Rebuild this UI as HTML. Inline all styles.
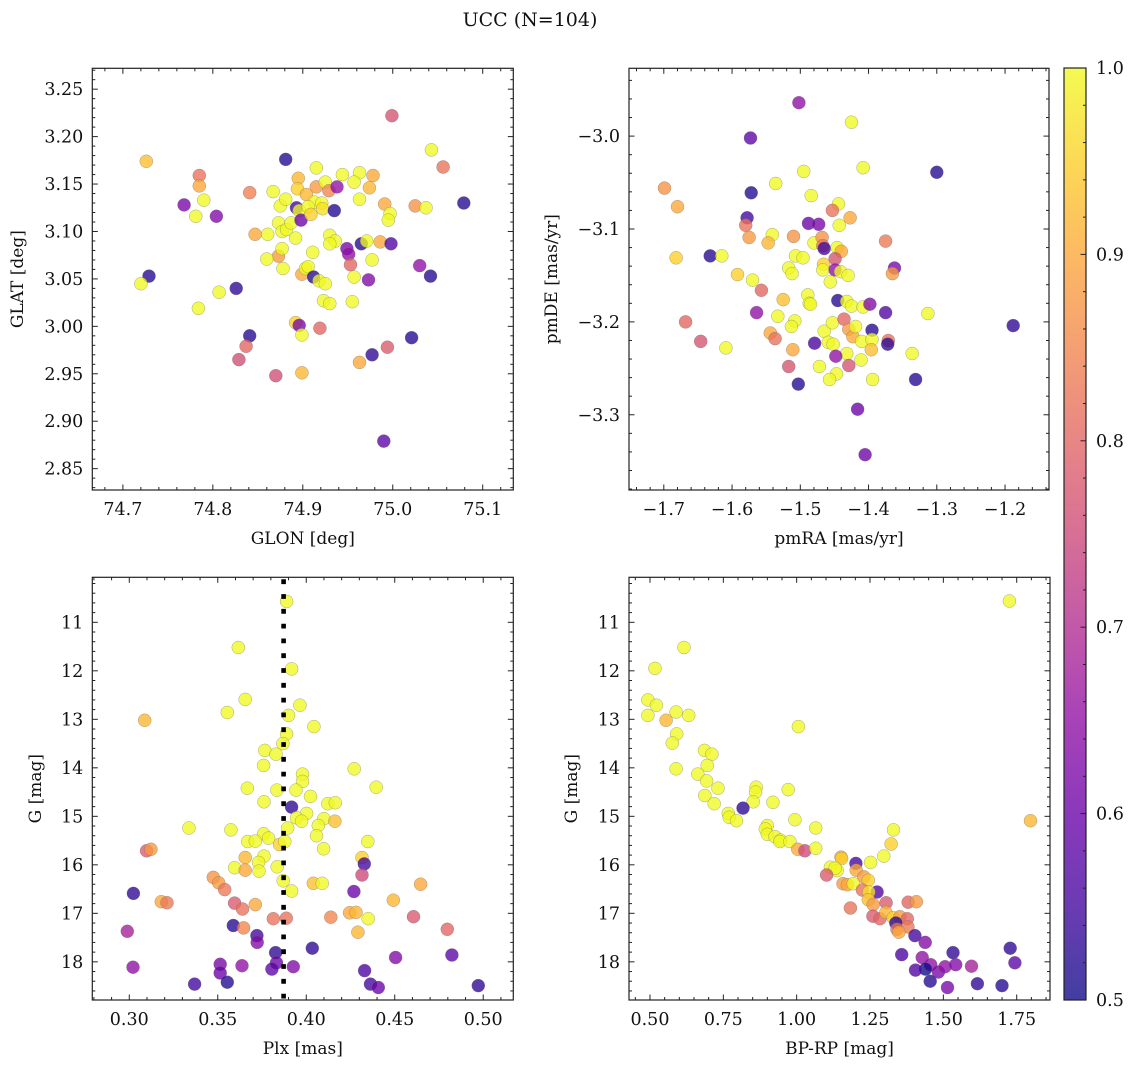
<!DOCTYPE html>
<html><head><meta charset="utf-8"><title>UCC (N=104)</title>
<style>
html,body{margin:0;padding:0;background:#fff;}
svg{display:block;font-family:"DejaVu Serif","Liberation Serif",serif;}
</style></head>
<body>
<svg id="fig" width="1136" height="1067" viewBox="0 0 1136 1067" xmlns="http://www.w3.org/2000/svg">
<defs>
<linearGradient id="plasma" x1="0" y1="1" x2="0" y2="0">
<stop offset="0" stop-color="#0d0887"/><stop offset="0.1" stop-color="#41049d"/><stop offset="0.2" stop-color="#6a00a8"/><stop offset="0.3" stop-color="#8f0da4"/><stop offset="0.4" stop-color="#b12a90"/><stop offset="0.5" stop-color="#cc4778"/><stop offset="0.6" stop-color="#e16462"/><stop offset="0.7" stop-color="#f2844b"/><stop offset="0.8" stop-color="#fca636"/><stop offset="0.9" stop-color="#fcce25"/><stop offset="1" stop-color="#f0f921"/>
</linearGradient>
</defs>
<text x="530" y="26" font-size="19" text-anchor="middle" fill="#111">UCC (N=104)</text>
</svg>
<script>
// ---- Panel 1: GLON / GLAT
const p1Lon=[74.726,74.785,74.785,74.768,74.790,74.781,74.804,74.841,74.881,74.729,74.720,74.807,74.784,74.826,74.841,74.837,74.829,74.870,74.899,74.847,74.861,74.867,74.875,74.881,74.873,74.877,74.882,74.887,74.892,74.873,74.877,74.860,74.878,74.895,74.894,74.893,74.896,74.898,74.904,74.915,74.915,74.925,74.929,74.938,74.913,74.921,74.906,74.909,74.922,74.935,74.944,74.963,74.957,74.978,74.974,74.963,74.991,74.997,74.995,75.025,75.037,75.043,75.056,74.999,75.079,74.930,74.936,74.930,74.911,74.949,74.951,74.953,74.965,74.971,74.986,74.998,74.977,74.957,74.973,75.030,75.042,74.899,74.903,74.906,74.912,74.918,74.925,74.923,74.930,74.955,74.892,74.896,74.899,74.919,75.021,74.994,74.977,74.963,74.990];
const p1Lat=[3.174,3.159,3.148,3.128,3.133,3.116,3.116,3.141,3.176,3.053,3.045,3.036,3.019,3.040,2.990,2.979,2.965,2.948,2.951,3.097,3.097,3.142,3.127,3.134,3.109,3.100,3.102,3.109,3.093,3.074,3.082,3.071,3.061,3.156,3.145,3.125,3.122,3.112,3.139,3.167,3.147,3.152,3.143,3.147,3.131,3.130,3.126,3.118,3.124,3.122,3.160,3.162,3.152,3.159,3.146,3.134,3.129,3.119,3.112,3.127,3.125,3.186,3.168,3.222,3.130,3.096,3.090,3.087,3.078,3.082,3.076,3.065,3.087,3.090,3.089,3.087,3.070,3.052,3.049,3.064,3.053,3.055,3.061,3.063,3.052,3.048,3.045,3.027,3.024,3.026,3.004,3.001,2.991,2.998,2.988,2.978,2.970,2.962,2.879];
const p1Prob=[0.93,0.82,0.9,0.62,1,1,0.63,0.84,0.52,0.52,1,1,1,0.53,0.52,0.8,0.76,0.76,0.92,0.9,1,1,1,1,1,1,1,1,1,0.88,1,1,1,0.92,0.95,0.55,1,0.6,0.92,1,0.88,1,0.85,0.65,1,1,1,0.95,0.97,0.52,1,1,1,0.9,0.92,1,0.9,1,1,0.87,1,1,0.82,0.77,0.52,1,1,1,1,0.62,0.65,0.8,0.52,1,0.9,0.57,1,1,0.63,0.65,0.52,0.9,1,1,0.52,1,1,1,1,1,0.95,0.62,1,0.8,0.52,0.78,0.53,0.9,0.58];
// ---- Panel 2: pmRA / pmDE
const p2Ra=[-1.502,-1.425,-1.573,-1.300,-1.408,-1.495,-1.536,-1.699,-1.680,-1.572,-1.484,-1.444,-1.453,-1.427,-1.443,-1.578,-1.580,-1.488,-1.473,-1.575,-1.541,-1.547,-1.510,-1.480,-1.468,-1.467,-1.465,-1.446,-1.440,-1.449,-1.682,-1.632,-1.615,-1.507,-1.496,-1.517,-1.512,-1.466,-1.467,-1.449,-1.441,-1.430,-1.456,-1.362,-1.365,-1.375,-1.592,-1.570,-1.557,-1.525,-1.564,-1.533,-1.508,-1.513,-1.489,-1.487,-1.485,-1.445,-1.432,-1.425,-1.408,-1.398,-1.375,-1.313,-1.188,-1.668,-1.646,-1.609,-1.544,-1.537,-1.511,-1.517,-1.503,-1.479,-1.465,-1.453,-1.459,-1.452,-1.436,-1.429,-1.423,-1.419,-1.410,-1.395,-1.395,-1.396,-1.371,-1.372,-1.432,-1.448,-1.429,-1.411,-1.472,-1.447,-1.457,-1.394,-1.336,-1.331,-1.416,-1.405];
const p2De=[-2.964,-2.985,-3.002,-3.039,-3.034,-3.038,-3.051,-3.056,-3.076,-3.061,-3.064,-3.073,-3.080,-3.088,-3.096,-3.088,-3.096,-3.094,-3.095,-3.109,-3.106,-3.115,-3.108,-3.115,-3.109,-3.118,-3.121,-3.120,-3.124,-3.132,-3.131,-3.129,-3.129,-3.129,-3.131,-3.142,-3.148,-3.138,-3.144,-3.144,-3.146,-3.150,-3.157,-3.142,-3.148,-3.113,-3.149,-3.155,-3.166,-3.176,-3.190,-3.194,-3.199,-3.205,-3.171,-3.180,-3.181,-3.177,-3.178,-3.183,-3.184,-3.181,-3.190,-3.191,-3.204,-3.200,-3.221,-3.228,-3.212,-3.218,-3.230,-3.248,-3.267,-3.223,-3.210,-3.201,-3.222,-3.224,-3.197,-3.208,-3.216,-3.205,-3.221,-3.209,-3.219,-3.230,-3.220,-3.224,-3.234,-3.237,-3.247,-3.241,-3.248,-3.256,-3.262,-3.262,-3.234,-3.262,-3.294,-3.343];
const p2Prob=[0.65,1,0.58,0.52,1,1,1,0.87,0.9,0.52,1,1,0.82,0.9,1,0.55,0.82,0.6,0.62,0.88,1,0.92,0.87,1,0.87,0.83,0.55,1,0.9,0.77,0.95,0.52,1,1,1,1,1,0.95,1,0.65,1,1,1,0.62,0.88,0.83,0.95,1,0.8,0.93,0.65,1,1,1,1,1,1,0.52,1,1,1,0.63,0.57,1,0.53,0.8,0.77,1,0.9,0.82,0.9,0.77,0.52,0.56,1,1,1,1,0.8,0.88,0.9,1,1,0.52,1,0.93,0.82,0.53,1,0.65,0.77,1,1,1,1,1,1,0.52,0.6,0.6];
// ---- Panel 3: Plx / G
const p3Plx=[0.3889,0.3616,0.3917,0.3554,0.3655,0.3087,0.3964,0.3900,0.4043,0.3889,0.3868,0.3766,0.3829,0.3759,0.4271,0.3979,0.3979,0.3667,0.3834,0.3942,0.4024,0.4395,0.3761,0.4122,0.4164,0.3917,0.4002,0.3945,0.3974,0.4100,0.4162,0.4068,0.3337,0.3574,0.3895,0.4058,0.3759,0.3787,0.3669,0.3712,0.3849,0.3879,0.4348,0.4098,0.3098,0.3122,0.3655,0.3761,0.3731,0.4315,0.4328,0.3595,0.3655,0.3733,0.3836,0.3475,0.3505,0.3539,0.4315,0.3870,0.3917,0.4040,0.4090,0.4646,0.4269,0.3023,0.3181,0.3213,0.3595,0.3640,0.3712,0.4492,0.3814,0.3887,0.4139,0.4245,0.4281,0.4350,0.4606,0.4797,0.4292,0.2989,0.3588,0.3646,0.3721,0.3723,0.4034,0.3827,0.3832,0.3806,0.3927,0.4505,0.4823,0.3021,0.3514,0.3514,0.3637,0.3554,0.3369,0.4330,0.4363,0.4407,0.4972];
const p3G=[10.57,11.52,11.96,12.86,12.59,13.02,12.71,12.92,13.15,13.30,13.50,13.64,13.72,13.95,14.02,14.13,14.28,14.42,14.46,14.46,14.59,14.40,14.70,14.74,14.72,14.81,14.94,15.03,15.10,15.05,15.10,15.19,15.24,15.28,15.24,15.40,15.36,15.45,15.52,15.51,15.58,15.52,15.52,15.67,15.71,15.68,15.85,15.82,15.95,15.85,15.98,16.06,16.11,16.13,16.04,16.26,16.37,16.51,16.21,16.33,16.54,16.38,16.38,16.40,16.55,16.59,16.76,16.78,16.79,16.91,16.82,16.73,17.11,17.10,17.08,16.99,16.98,17.11,17.07,17.33,17.39,17.37,17.25,17.30,17.46,17.60,17.72,17.81,18.02,18.15,18.10,17.91,17.86,18.11,18.05,18.23,18.08,18.42,18.46,18.18,18.46,18.53,18.49];
const p3Prob=[1,1,1,1,1,0.92,1,1,1,1,1,1,1,1,1,1,1,1,1,1,1,1,1,1,1,0.53,1,1,1,1,0.93,1,1,1,1,1,1,1,1,1,0.95,1,1,1,0.78,0.88,0.92,1,1,0.95,0.55,1,0.9,1,1,0.87,0.88,0.83,0.75,1,1,0.93,1,0.9,0.6,0.53,0.9,0.83,0.78,0.82,0.9,0.92,0.82,0.82,0.85,0.9,0.92,1,0.78,0.8,0.92,0.68,0.52,0.85,0.55,0.63,0.53,0.53,0.6,0.58,0.63,0.63,0.58,0.65,0.62,0.6,0.65,0.52,0.55,0.56,0.55,0.6,0.53];
const plxLine=0.3872;
// ---- Panel 4: BP-RP / G
const p4Col=[1.725,0.616,0.517,0.493,0.522,0.493,0.589,0.632,0.555,0.591,0.576,0.589,1.006,0.686,0.711,0.695,0.663,0.693,0.732,0.687,0.719,0.862,0.860,0.852,0.971,0.817,0.919,0.767,0.770,0.795,0.994,0.900,0.893,0.900,0.926,0.945,0.943,0.977,1.065,1.330,1.322,1.004,1.028,1.065,1.151,1.153,1.297,1.202,1.252,1.115,1.138,1.131,1.102,1.203,1.229,1.244,1.158,1.173,1.193,1.224,1.274,1.246,1.244,1.261,1.183,1.305,1.380,1.408,1.260,1.284,1.304,1.329,1.352,1.377,1.338,1.342,1.379,1.348,1.403,1.438,1.358,1.428,1.533,1.728,1.744,1.457,1.439,1.405,1.483,1.506,1.542,1.596,1.455,1.514,1.616,1.700,1.797];
const p4G=[10.56,11.52,11.95,12.60,12.71,12.92,12.85,12.92,13.02,13.30,13.49,14.02,13.15,13.64,13.72,13.95,14.13,14.27,14.42,14.57,14.74,14.40,14.50,14.70,14.45,14.83,14.71,14.94,15.02,15.09,15.07,15.19,15.26,15.37,15.42,15.49,15.52,15.52,15.24,15.28,15.57,15.68,15.71,15.66,15.84,15.87,15.82,15.97,15.95,16.05,16.12,16.07,16.21,16.11,16.25,16.32,16.39,16.41,16.39,16.52,16.56,16.56,16.72,16.82,16.89,16.78,16.77,16.76,17.06,17.11,16.98,17.09,17.07,17.11,17.20,17.33,17.28,17.39,17.46,17.60,17.85,17.91,17.81,17.72,18.02,18.06,18.15,18.17,18.21,18.10,18.06,18.09,18.40,18.53,18.45,18.49,15.09];
const p4Prob=[1,1,1,1,1,1,1,1,0.92,1,1,1,1,1,1,1,1,1,1,1,1,1,1,1,1,0.53,1,1,1,1,1,1,1,1,1,1,1,1,1,1,0.95,0.9,0.75,1,0.9,0.95,1,0.55,1,1,1,1,0.78,0.9,0.88,0.95,0.88,0.9,1,0.82,0.57,0.97,0.93,0.88,0.82,0.78,0.8,0.88,0.78,0.8,0.92,0.95,0.88,0.8,0.53,0.82,0.83,0.9,0.55,0.63,0.56,0.65,0.53,0.53,0.58,0.65,0.5,0.57,0.62,0.65,0.63,0.68,0.52,0.62,0.53,0.52,0.92];
// ---- Colorbar
const cbTicks=[0.5,0.6,0.7,0.8,0.9,1.0];

const NS="http://www.w3.org/2000/svg";
const svg=document.getElementById('fig');
const stops=[[13,8,135],[65,4,157],[106,0,168],[143,13,164],[177,42,144],[204,71,120],[225,100,98],[242,132,75],[252,166,54],[252,206,37],[240,249,33]];
function plasma(v){let t=Math.max(0,Math.min(1,(v-0.5)/0.5))*10;let i=Math.min(9,Math.floor(t));let f=t-i;const a=stops[i],b=stops[i+1];return 'rgb('+a.map((c,k)=>Math.round(c+(b[k]-c)*f)).join(',')+')';}
function mk(tag,attrs,parent){const e=document.createElementNS(NS,tag);for(const k in attrs)e.setAttribute(k,attrs[k]);(parent||svg).appendChild(e);return e;}
function lin(d0,d1,r0,r1){return v=>r0+(v-d0)*(r1-r0)/(d1-d0);}
function fmt(v,d){return (v<0?'\u2212':'')+Math.abs(v).toFixed(d);}
const TICKFS=17.5, LABFS=17;

function panel(cfg){
  const g=mk('g',{});
  
  
  const {L,R,T,B}=cfg;
  const sx=lin(cfg.xd[0],cfg.xd[1],L,R), sy=lin(cfg.yd[0],cfg.yd[1],B,T);
  const pg=mk('g',{},g);
  
  
  for(let i=0;i<cfg.xs.length;i++){
    const c=mk('circle',{cx:sx(cfg.xs[i]).toFixed(1),cy:sy(cfg.ys[i]).toFixed(1),r:6.5,fill:plasma(cfg.ps[i]),'fill-opacity':0.78,stroke:'#666','stroke-width':0.4,'stroke-opacity':0.7},pg);
    
    
  }
  if(cfg.vline!==undefined){
    const l=mk('line',{x1:sx(cfg.vline),x2:sx(cfg.vline),y1:T+2,y2:B,stroke:'#000','stroke-width':4.6,'stroke-dasharray':'4.8 10'},g);
    
    
  }
  const f=mk('rect',{x:L,y:T,width:R-L,height:B-T,fill:'none',stroke:'#222','stroke-width':1.2},g);
  
  
  const tg=mk('g',{stroke:'#222','stroke-width':1},g);
  
  
  const eps=1e-9;
  const xmn=Math.min(...cfg.xd),xmx=Math.max(...cfg.xd),ymn=Math.min(...cfg.yd),ymx=Math.max(...cfg.yd);
  for(let v=Math.ceil(xmn/cfg.xminor-eps)*cfg.xminor;v<=xmx+eps;v+=cfg.xminor){
    const maj=cfg.xmaj.some(m=>Math.abs(m-v)<cfg.xminor/3);const len=maj?5.5:3;const x=sx(v);
    mk('line',{x1:x,x2:x,y1:B,y2:B-len},tg);mk('line',{x1:x,x2:x,y1:T,y2:T+len},tg);
  }
  for(let v=Math.ceil(ymn/cfg.yminor-eps)*cfg.yminor;v<=ymx+eps;v+=cfg.yminor){
    const maj=cfg.ymaj.some(m=>Math.abs(m-v)<cfg.yminor/3);const len=maj?5.5:3;const y=sy(v);
    mk('line',{x1:L,x2:L+len,y1:y,y2:y},tg);mk('line',{x1:R,x2:R-len,y1:y,y2:y},tg);
  }
  cfg.xmaj.forEach(v=>{
    const t=mk('text',{x:sx(v),y:B+25,'font-size':TICKFS,'text-anchor':'middle',fill:'#111'},g);
    t.textContent=fmt(v,cfg.xdec);
    
    
  });
  cfg.ymaj.forEach(v=>{
    const t=mk('text',{x:L-9,y:sy(v)+6,'font-size':TICKFS,'text-anchor':'end',fill:'#111'},g);
    t.textContent=fmt(v,cfg.ydec);
    
    
  });
  const xl=mk('text',{x:(L+R)/2,y:B+54,'font-size':LABFS,'text-anchor':'middle',fill:'#111'},g);
  xl.textContent=cfg.xlabel;
  
  
  const yl=mk('text',{x:0,y:0,'font-size':LABFS,'text-anchor':'middle',fill:'#111',transform:'translate('+cfg.ylx+','+((T+B)/2)+') rotate(-90)'},g);
  yl.textContent=cfg.ylabel;
  
  
}

panel({name:'glon-glat-panel',L:92.3,R:513.3,T:68.3,B:490,xd:[74.666,75.134],yd:[2.8275,3.272],xs:p1Lon,ys:p1Lat,ps:p1Prob,
  xmaj:[74.7,74.8,74.9,75.0,75.1],xminor:0.02,xdec:1,ymaj:[2.85,2.90,2.95,3.00,3.05,3.10,3.15,3.20,3.25],yminor:0.01,ydec:2,xlabel:'GLON [deg]',ylabel:'GLAT [deg]',ylx:23});
panel({name:'pm-panel',L:629,R:1049,T:68.3,B:490,xd:[-1.751,-1.1356],yd:[-3.381,-2.927],xs:p2Ra,ys:p2De,ps:p2Prob,
  xmaj:[-1.7,-1.6,-1.5,-1.4,-1.3,-1.2],xminor:0.02,xdec:1,ymaj:[-3.3,-3.2,-3.1,-3.0],yminor:0.02,ydec:1,xlabel:'pmRA [mas/yr]',ylabel:'pmDE [mas/yr]',ylx:557});
panel({name:'plx-g-panel',L:92.3,R:513.3,T:577.3,B:1000,xd:[0.2791,0.5170],yd:[18.787,10.072],xs:p3Plx,ys:p3G,ps:p3Prob,vline:plxLine,
  xmaj:[0.30,0.35,0.40,0.45,0.50],xminor:0.01,xdec:2,ymaj:[11,12,13,14,15,16,17,18],yminor:0.2,ydec:0,xlabel:'Plx [mas]',ylabel:'G [mag]',ylx:41});
panel({name:'cmd-panel',L:629,R:1050,T:577.3,B:1000,xd:[0.4285,1.8635],yd:[18.787,10.072],xs:p4Col,ys:p4G,ps:p4Prob,
  xmaj:[0.50,0.75,1.00,1.25,1.50,1.75],xminor:0.05,xdec:2,ymaj:[11,12,13,14,15,16,17,18],yminor:0.2,ydec:0,xlabel:'BP-RP [mag]',ylabel:'G [mag]',ylx:577});

(function(){
  const L=1064,R=1086,T=68,B=1000;const sy=lin(0.5,1.0,B,T);
  const g=mk('g',{});
  
  
  mk('rect',{x:L,y:T,width:R-L,height:B-T,fill:'url(#plasma)','fill-opacity':0.78},g);
  mk('rect',{x:L,y:T,width:R-L,height:B-T,fill:'none',stroke:'#222','stroke-width':1.2},g);
  for(let v=0.5;v<=1.0001;v+=0.02){
    const maj=cbTicks.some(m=>Math.abs(m-v)<0.005);const y=sy(v);
    mk('line',{x1:R,x2:R-(maj?5.5:3),y1:y,y2:y,stroke:'#222','stroke-width':1},g);
  }
  cbTicks.forEach(v=>{
    const t=mk('text',{x:R+10,y:sy(v)+6,'font-size':TICKFS,fill:'#111'},g);
    t.textContent=v.toFixed(1);
    
    
  });
})();
</script>
</body></html>
